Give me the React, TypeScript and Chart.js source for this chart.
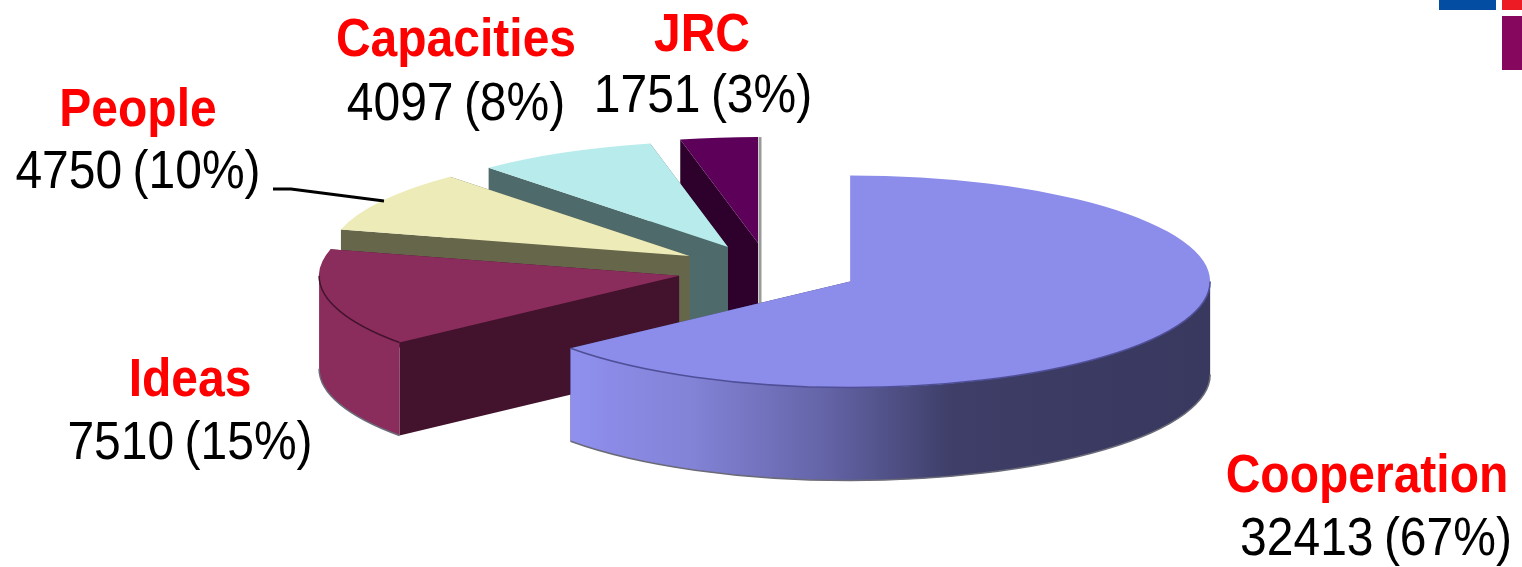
import React, { useEffect, useRef } from "react";
import { Chart, registerables } from "chart.js";

Chart.register(...registerables);

// ---- data ----
const categories = ["Cooperation", "Ideas", "People", "Capacities", "JRC"];
const values = [32413, 7510, 4750, 4097, 1751];
const shownPercents = [67, 15, 10, 8, 3];

// ---- styles ----
const topColors = ["#8C8CEA", "#8B2D5C", "#EDEBB8", "#B8ECEC", "#5C0059"];
const faceColors = ["#3A3A60", "#43132E", "#66664A", "#4F6A6A", "#2E002C"];
const rimStops: string[][] = [
  ["#9090F0", "#8282D6", "#6464A8", "#3E3E68", "#3A3A62", "#393960"],
  ["#8A2C5C", "#8A2C5C"],
  ["#66664A", "#66664A"],
  ["#4F6A6A", "#4F6A6A"],
  ["#2E002C", "#2E002C"],
];
const rimLineColors = ["#4F4F98", "#43132E", "#66664A", "#4F6A6A", "#2E002C"];
const explode = [91, 91, 92, 88, 92];
const depths = [93, 93, 93, 93, 110];
const paintOrder = [4, 3, 2, 1, 0];
const tilt = 106 / 360;
const pieRadius = 360;
const textStretch = 1.12;

const nameAnchors = [
  [1367, 492],
  [190, 396],
  [138, 126],
  [456, 56],
  [702, 51],
];
const valueAnchors = [
  [1376, 555],
  [190, 459],
  [138, 188],
  [456, 120],
  [703, 112],
];
const leader = [
  [273, 189],
  [291, 189],
  [384, 201],
];
const cornerBlocks: [string, number, number, number, number][] = [
  ["#034EA2", 1439, 0, 57, 10],
  ["#ED1C24", 1502, 0, 20, 10],
  ["#85085E", 1502, 16, 20, 54],
];

const pie3d = {
  id: "pie3d",
  beforeDatasetDraw(chart: any) {
    const ctx = chart.ctx;
    const arcs = chart.getDatasetMeta(0).data;
    for (const i of paintOrder) {
      const el = arcs[i];
      const depth = depths[i];
      const mid = (el.startAngle + el.endAngle) / 2;
      const X = el.x + Math.cos(mid) * explode[i];
      const Y = el.y + Math.sin(mid) * explode[i] * tilt;
      const R = el.outerRadius;
      const rx = (a: number) => X + R * Math.cos(a);
      const ry = (a: number) => Y + R * tilt * Math.sin(a);

      // radial faces
      ctx.fillStyle = faceColors[i];
      for (const a of [el.endAngle, el.startAngle]) {
        ctx.beginPath();
        ctx.moveTo(X, Y);
        ctx.lineTo(rx(a), ry(a));
        ctx.lineTo(rx(a), ry(a) + depth);
        ctx.lineTo(X, Y + depth);
        ctx.closePath();
        ctx.fill();
      }

      // the last slice ends at twelve o'clock: its cut edge shows as a grey sliver
      if (i === categories.length - 1) {
        ctx.strokeStyle = "#9A9A9A";
        ctx.lineWidth = 3;
        ctx.beginPath();
        ctx.moveTo(X + 2, ry(el.endAngle));
        ctx.lineTo(X + 2, Y + depth);
        ctx.stroke();
      }

      // outer rim: the part that faces the viewer
      let a0 = el.startAngle;
      let a1 = el.endAngle;
      const TAU = Math.PI * 2;
      while (a0 < 0) {
        a0 += TAU;
        a1 += TAU;
      }
      const segs: [number, number][] = [];
      if (a0 < Math.PI) segs.push([a0, Math.min(a1, Math.PI)]);
      if (a1 > TAU) segs.push([TAU, Math.min(a1, TAU + Math.PI)]);
      for (const [s, e] of segs) {
        const g = ctx.createLinearGradient(Math.min(rx(s), rx(e), X - R * 0.79), 0, X + R, 0);
        rimStops[i].forEach((c, k, all) => g.addColorStop(k / (all.length - 1), c));
        ctx.fillStyle = g;
        ctx.beginPath();
        ctx.ellipse(X, Y, R, R * tilt, 0, s, e, false);
        ctx.ellipse(X, Y + depth, R, R * tilt, 0, e, s, true);
        ctx.closePath();
        ctx.fill();
      }

      // top surface, drawn by the library's arc element
      ctx.save();
      ctx.translate(X, Y);
      ctx.scale(1, tilt);
      ctx.translate(-el.x, -el.y);
      el.draw(ctx, chart.chartArea);
      ctx.restore();

      // thin outlines along the rim
      for (const [s, e] of segs) {
        ctx.strokeStyle = rimLineColors[i];
        ctx.lineWidth = 1.5;
        ctx.beginPath();
        ctx.ellipse(X, Y, R, R * tilt, 0, s, e, false);
        ctx.stroke();
        ctx.strokeStyle = "#6A6A78";
        ctx.beginPath();
        ctx.ellipse(X, Y + depth, R, R * tilt, 0, s, e, false);
        ctx.stroke();
      }
    }
    return false;
  },
  afterDraw(chart: any) {
    const ctx = chart.ctx;
    ctx.save();
    for (const [c, x, y, w, h] of cornerBlocks) {
      ctx.fillStyle = c;
      ctx.fillRect(x, y, w, h);
    }
    ctx.strokeStyle = "#000000";
    ctx.lineWidth = 3;
    ctx.beginPath();
    leader.forEach(([x, y], k) => (k ? ctx.lineTo(x, y) : ctx.moveTo(x, y)));
    ctx.stroke();

    ctx.textAlign = "center";
    ctx.textBaseline = "alphabetic";
    const put = (text: string, [x, y]: number[], font: string, color: string, gap: string) => {
      ctx.save();
      ctx.translate(x, y);
      ctx.scale(1, textStretch);
      ctx.font = font;
      ctx.fillStyle = color;
      ctx.wordSpacing = gap;
      ctx.fillText(text, 0, 0);
      ctx.restore();
    };
    categories.forEach((name, i) => {
      put(name, nameAnchors[i], 'bold 48px "Liberation Sans", Arial, sans-serif', "#FF0000", "0px");
      put(
        `${values[i]} (${shownPercents[i]}%)`,
        valueAnchors[i],
        '48px "Liberation Sans", Arial, sans-serif',
        "#000000",
        "-3px"
      );
    });
    ctx.restore();
  },
};

export default function App() {
  const ref = useRef<HTMLCanvasElement>(null);
  useEffect(() => {
    document.body.style.margin = "0";
    document.body.style.background = "#FFFFFF";
    const chart = new Chart(ref.current as HTMLCanvasElement, {
      type: "pie",
      data: {
        labels: categories,
        datasets: [
          {
            data: values,
            backgroundColor: topColors,
            borderWidth: 0,
            radius: pieRadius,
            clip: false,
          } as any,
        ],
      },
      options: {
        animation: false,
        responsive: true,
        maintainAspectRatio: false,
        layout: { padding: { left: 14, bottom: 27 } },
        plugins: { legend: { display: false }, tooltip: { enabled: false } },
      },
      plugins: [pie3d],
    } as any);
    return () => chart.destroy();
  }, []);
  return (
    <div style={{ position: "relative", width: 1522, height: 567, overflow: "hidden" }}>
      <canvas ref={ref} style={{ display: "block" }} />
    </div>
  );
}
